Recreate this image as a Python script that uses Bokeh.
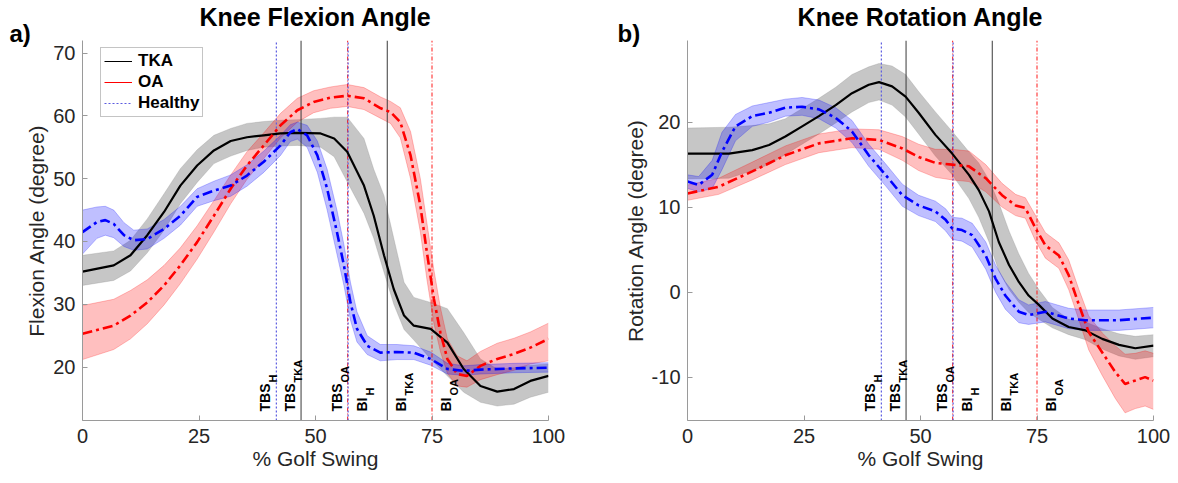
from bokeh.plotting import figure
from bokeh.models import Range1d, FixedTicker, Title, Legend, LegendItem, ColumnDataSource
from bokeh.layouts import row
from bokeh.embed import file_html
from bokeh.resources import INLINE
from bokeh.core.properties import value

# ---------------- data ----------------
X_TICKS = [0, 25, 50, 75, 100]
FLEX_TICKS = [20, 30, 40, 50, 60, 70]
ROT_TICKS = [-10, 0, 10, 20]

event_main = ["TBS", "TBS", "TBS", "BI", "BI", "BI"]
event_sub = ["H", "TKA", "OA", "H", "TKA", "OA"]
event_x = [41.6, 46.9, 56.9, 57.0, 65.4, 75.0]

# Knee flexion angle (panel a)
tka_flex_x = [0, 6.7, 10.3, 13.9, 17.5, 21.0, 24.6, 28.2, 31.8, 35.3, 38.9, 42.5, 46.1, 51.1, 54.0, 56.8,
              60.4, 62.5, 64.7, 66.8, 69.0, 71.1, 74.7, 78.3, 81.8, 85.4, 89.0, 92.6, 96.1, 100]
tka_flex_m = [35.2, 36.2, 37.8, 41.0, 44.7, 48.9, 52.1, 54.5, 56.0, 56.6, 56.9, 57.2, 57.3, 57.2, 56.4, 54.3,
              48.9, 44.1, 37.8, 32.4, 28.2, 26.6, 26.1, 23.9, 19.7, 17.0, 16.1, 16.5, 17.8, 18.6]
tka_flex_lo = [33.0, 33.8, 35.3, 38.2, 41.8, 46.0, 49.4, 52.4, 53.6, 54.5, 55.0, 55.2, 55.3, 55.0, 53.5, 49.5,
               44.5, 40.5, 35.1, 30.0, 26.0, 24.3, 21.3, 18.6, 16.0, 14.4, 13.8, 14.1, 15.2, 16.0]
tka_flex_hi = [37.8, 38.5, 40.2, 43.6, 47.6, 51.6, 54.6, 56.9, 58.0, 58.8, 59.1, 59.3, 59.4, 59.6, 59.8, 59.8,
               56.4, 51.5, 47.3, 40.5, 33.5, 31.1, 30.3, 29.3, 25.5, 21.3, 19.7, 19.9, 20.3, 20.5]

oa_flex_x = [0, 6.7, 10.3, 13.9, 17.5, 21.0, 24.6, 28.2, 31.8, 35.3, 38.9, 42.5, 46.1, 49.6, 53.2, 56.8,
             60.4, 64.0, 66.1, 68.2, 70.4, 72.5, 73.9, 75.4, 76.8, 78.3, 80.4, 82.5, 85.4, 89.0, 92.6, 96.1, 100]
oa_flex_m = [25.3, 26.6, 28.2, 30.3, 33.0, 36.2, 39.9, 44.1, 48.4, 52.1, 55.3, 58.5, 60.9, 62.2, 62.9, 63.2,
             62.8, 61.2, 60.6, 59.0, 53.7, 45.7, 38.3, 30.9, 25.5, 21.3, 18.9, 18.6, 20.2, 21.3, 22.1, 23.1, 24.5]
oa_flex_lo = [21.2, 22.8, 24.5, 26.9, 29.9, 33.3, 37.2, 41.5, 46.0, 49.9, 53.2, 56.5, 59.0, 60.5, 61.2, 61.5,
              61.0, 59.6, 58.8, 56.5, 50.0, 41.5, 34.0, 27.0, 22.5, 19.0, 17.0, 16.8, 18.0, 18.8, 19.5, 20.5, 21.0]
oa_flex_hi = [29.8, 30.8, 32.2, 33.9, 36.2, 39.0, 42.5, 46.5, 50.6, 54.3, 57.3, 60.4, 62.8, 64.0, 64.6, 65.0,
              64.5, 63.0, 62.3, 61.3, 57.5, 50.0, 43.0, 35.5, 29.5, 24.5, 21.8, 21.0, 22.5, 23.8, 24.6, 25.6, 27.0]

h_flex_x = [0, 3.1, 4.9, 6.7, 8.9, 11.0, 13.9, 17.5, 21.0, 24.6, 28.2, 31.8, 35.3, 38.9, 42.5, 44.6, 46.1,
            48.2, 50.4, 52.5, 54.6, 56.1, 57.5, 58.9, 61.1, 63.9, 67.5, 71.1, 74.7, 78.3, 81.8, 85.4, 92.6, 100]
h_flex_m = [41.5, 43.1, 43.4, 42.8, 41.0, 40.2, 40.4, 42.0, 44.1, 47.1, 48.1, 48.9, 50.5, 52.7, 55.3, 57.4, 57.9,
            56.9, 53.7, 48.4, 41.5, 36.2, 30.3, 26.1, 23.4, 22.3, 22.4, 22.3, 21.3, 19.7, 19.4, 19.6, 19.8, 19.9]
h_flex_lo = [38.0, 40.5, 41.0, 40.6, 39.2, 38.6, 38.8, 40.5, 42.6, 45.6, 46.5, 47.2, 48.8, 51.0, 53.7, 55.9, 56.3,
             55.0, 51.0, 45.0, 38.0, 33.0, 27.5, 24.0, 22.0, 21.0, 21.2, 21.2, 20.3, 18.9, 18.7, 18.9, 19.1, 19.2]
h_flex_hi = [45.0, 45.5, 45.6, 45.0, 43.0, 41.8, 42.0, 43.5, 45.6, 48.4, 49.6, 50.6, 52.2, 54.4, 56.9, 58.6, 59.0,
             58.5, 56.0, 51.5, 45.0, 39.5, 33.5, 28.8, 25.0, 23.6, 23.6, 23.4, 22.4, 20.6, 20.2, 20.4, 20.6, 20.7]

# Knee rotation angle (panel b)
tka_rot_x = [0, 8.9, 13.9, 17.5, 21.0, 24.6, 28.2, 31.8, 35.3, 38.9, 41.1, 43.9, 46.8, 49.6, 53.2, 56.8,
             60.4, 62.5, 64.7, 66.8, 69.0, 71.1, 73.2, 75.4, 78.3, 81.8, 85.4, 89.0, 92.6, 96.1, 100]
tka_rot_m = [16.3, 16.3, 16.7, 17.3, 18.3, 19.5, 20.7, 22.0, 23.4, 24.4, 24.7, 24.2, 23.0, 21.1, 18.5, 16.3,
             13.8, 12.0, 9.5, 5.9, 3.2, 1.2, -0.4, -1.5, -3.1, -4.1, -4.5, -5.5, -6.2, -6.6, -6.3]
tka_rot_lo = [13.3, 13.4, 14.3, 15.0, 16.2, 17.4, 18.6, 19.9, 21.2, 22.3, 22.6, 22.0, 20.6, 18.6, 16.0, 13.8,
              11.0, 8.8, 5.9, 2.5, 0.3, -1.2, -2.4, -3.2, -4.2, -5.0, -5.6, -6.7, -7.5, -7.9, -7.6]
tka_rot_hi = [19.3, 19.4, 19.6, 19.8, 20.4, 21.6, 22.8, 24.1, 25.6, 26.5, 26.9, 26.6, 25.6, 23.6, 21.2, 18.9,
              16.5, 15.2, 13.2, 10.5, 7.2, 4.5, 2.2, 0.3, -1.8, -3.2, -3.5, -4.3, -4.9, -5.2, -5.0]

oa_rot_x = [0, 6.7, 13.9, 21.0, 28.2, 35.3, 41.1, 46.1, 49.6, 53.2, 56.8, 60.4, 64.0, 67.5, 70.4, 72.5,
            74.7, 76.8, 79.7, 81.8, 84.0, 86.1, 89.0, 91.8, 93.9, 96.1, 98.2, 100]
oa_rot_m = [11.6, 12.4, 14.2, 16.1, 17.5, 18.1, 17.9, 16.9, 15.9, 15.2, 15.0, 14.8, 13.4, 11.4, 10.2, 9.9,
            7.5, 5.5, 4.3, 2.0, -1.5, -4.7, -7.1, -9.4, -10.8, -10.4, -10.0, -10.4]
oa_rot_lo = [10.8, 11.5, 13.2, 15.0, 16.4, 17.0, 16.8, 15.5, 14.3, 13.5, 13.2, 13.0, 11.8, 10.0, 9.0, 8.7,
             6.0, 4.0, 2.8, 0.3, -3.3, -6.8, -9.8, -12.5, -14.2, -13.7, -13.4, -13.8]
oa_rot_hi = [12.6, 13.4, 15.3, 17.2, 18.6, 19.2, 19.1, 18.3, 17.4, 16.8, 16.8, 16.6, 15.0, 12.8, 11.5, 11.1,
             9.0, 7.0, 5.8, 3.8, 0.3, -2.8, -4.8, -6.3, -7.3, -7.2, -6.9, -7.2]

h_rot_x = [0, 2.4, 5.3, 7.4, 10.3, 13.9, 17.5, 21.0, 24.6, 28.2, 31.8, 35.3, 38.9, 42.5, 46.1, 49.6, 53.2,
           55.4, 56.8, 58.9, 61.1, 64.0, 66.1, 68.2, 71.1, 73.2, 76.8, 81.8, 85.4, 92.6, 100]
h_rot_m = [13.0, 12.6, 13.8, 16.5, 19.5, 20.7, 21.1, 21.7, 21.8, 21.5, 20.5, 18.9, 16.1, 13.8, 11.4, 10.2, 9.5,
           8.5, 7.5, 7.3, 6.7, 4.3, 1.6, -0.4, -2.3, -2.7, -2.3, -3.1, -3.3, -3.3, -3.0]
h_rot_lo = [12.2, 11.8, 12.2, 14.4, 17.8, 19.5, 20.0, 20.7, 20.8, 20.4, 19.3, 17.6, 14.8, 12.5, 10.1, 9.0, 8.3,
            7.2, 6.2, 6.0, 5.3, 2.7, 0.0, -2.0, -3.6, -3.8, -3.5, -4.3, -4.5, -4.5, -4.2]
h_rot_hi = [13.8, 13.6, 15.5, 18.8, 20.9, 21.9, 22.3, 22.7, 22.9, 22.6, 21.7, 20.2, 17.4, 15.1, 12.7, 11.4, 10.7,
            9.8, 8.8, 8.7, 8.1, 5.9, 3.2, 1.2, -0.9, -1.5, -1.1, -1.9, -2.1, -2.1, -1.8]

# ---------------- styling ----------------
FONT = "Liberation Sans"
TXT = "#262626"
AXC = "#9a9a9a"
C_TKA, C_OA, C_H = "#000000", "#ff0000", "#0000ff"
C_EV_H = "#5b5be0"
DASHDOT = "10 4 3 4"


def make_panel(ylim, yticks, ylabel, title, tag, tag_offset, series, border_left, border_right, show_legend):
    p = figure(width=border_left + 466 + border_right, height=40 + 380 + 58,
               frame_width=466, frame_height=380,
               min_border_left=border_left, min_border_right=border_right,
               min_border_top=40, min_border_bottom=58,
               x_range=Range1d(0, 100), y_range=Range1d(*ylim),
               output_backend="svg", toolbar_location=None)
    p.outline_line_color = None
    p.grid.grid_line_color = None
    p.background_fill_color = "white"
    p.border_fill_color = "white"

    # panel tag (closest to frame) and main title (outermost)
    p.add_layout(Title(text=tag, align="left", offset=tag_offset, standoff=-13,
                       text_font=FONT, text_font_size="24px", text_font_style="bold",
                       text_color="#000000"), "above")
    p.title.text = title
    p.title.align = "center"
    p.title.text_font = FONT
    p.title.text_font_size = "25px"
    p.title.text_font_style = "bold"
    p.title.text_color = "#000000"
    p.title.standoff = -12

    for ax, ticks in ((p.xaxis, X_TICKS), (p.yaxis, yticks)):
        ax.ticker = FixedTicker(ticks=ticks)
        ax.major_label_overrides = {t: str(t) for t in ticks}
        ax.axis_line_color = AXC
        ax.major_tick_line_color = AXC
        ax.major_tick_in = 5
        ax.major_tick_out = 0
        ax.minor_tick_line_color = None
        ax.major_label_text_font = FONT
        ax.major_label_text_font_size = "20px"
        ax.major_label_text_color = TXT
        ax.axis_label_text_font = FONT
        ax.axis_label_text_font_size = "21px"
        ax.axis_label_text_font_style = "normal"
        ax.axis_label_text_color = TXT
    p.xaxis.axis_label = "% Golf Swing"
    p.xaxis.major_label_standoff = 8
    p.xaxis.axis_label_standoff = 1
    p.yaxis.axis_label = ylabel
    p.yaxis.major_label_standoff = 7
    p.yaxis.axis_label_standoff = 2

    # bands
    for xs, m, lo, hi, col, alpha in series:
        p.varea(x=xs, y1=lo, y2=hi, fill_color=col, fill_alpha=alpha)
        p.line(xs, lo, line_color=col, line_alpha=0.3, line_width=0.8)
        p.line(xs, hi, line_color=col, line_alpha=0.3, line_width=0.8)

    # event lines
    y0, y1 = ylim
    order = [0, 1, 2, 4, 5, 3]
    for i in order:
        grp = event_sub[i]
        if grp == "TKA":
            kw = dict(line_color="#3a3a3a", line_width=1)
        elif grp == "OA":
            kw = dict(line_color=C_OA, line_width=1, line_dash="4 2 1 2", line_alpha=0.9)
        else:
            kw = dict(line_color=C_EV_H, line_width=1.2, line_dash="2 2")
        p.segment(x0=[event_x[i]], y0=[y0], x1=[event_x[i]], y1=[y1], **kw)

    # mean lines
    styles = [dict(line_color=C_TKA, line_width=2.2),
              dict(line_color=C_OA, line_width=2.6, line_dash=DASHDOT),
              dict(line_color=C_H, line_width=2.6, line_dash=DASHDOT)]
    for (xs, m, lo, hi, col, alpha), st in zip(series, styles):
        p.line(xs, m, **st)

    # event labels (rotated, with subscripts)
    main_off = [-11 if t == "TBS" else 14 for t in event_main]
    sub_off = [-3 if t == "TBS" else 22 for t in event_main]
    sub_yoff = [-38 if t == "TBS" else -25 for t in event_main]
    src = ColumnDataSource(dict(x=event_x, y=[y0] * len(event_x), main=event_main, sub=event_sub,
                                mo=main_off, so=sub_off, syo=sub_yoff))
    p.text(x="x", y="y", text="main", source=src, angle=1.5707963, x_offset="mo", y_offset=-9,
           text_align="left", text_baseline="alphabetic", text_font_size="14px",
           text_font_style="bold", text_color="#000000", text_font=value(FONT))
    p.text(x="x", y="y", text="sub", source=src, angle=1.5707963, x_offset="so", y_offset="syo",
           text_align="left", text_baseline="alphabetic", text_font_size="11px",
           text_font_style="bold", text_color="#000000", text_font=value(FONT))

    if show_legend:
        r1 = p.line([-50, -40], [0, 0], line_color=C_TKA, line_width=1)
        r2 = p.line([-50, -40], [0, 0], line_color=C_OA, line_width=1)
        r3 = p.line([-50, -40], [0, 0], line_color=C_EV_H, line_width=1.2, line_dash="2 2")
        leg = Legend(items=[LegendItem(label="TKA", renderers=[r1]),
                            LegendItem(label="OA", renderers=[r2]),
                            LegendItem(label="Healthy", renderers=[r3])],
                     location=(18, 303), margin=0, padding=3, spacing=1,
                     label_height=20, glyph_height=20, glyph_width=28, label_standoff=6,
                     label_text_font=FONT, label_text_font_size="17px", label_text_font_style="bold",
                     label_text_color="#000000", border_line_color="#8a8a8a", border_line_width=1,
                     background_fill_alpha=1.0)
        p.add_layout(leg, "center")
    return p


flex_series = [
    (tka_flex_x, tka_flex_m, tka_flex_lo, tka_flex_hi, "#808080", 0.45),
    (oa_flex_x, oa_flex_m, oa_flex_lo, oa_flex_hi, "#ff0000", 0.25),
    (h_flex_x, h_flex_m, h_flex_lo, h_flex_hi, "#0000ff", 0.25),
]
rot_series = [
    (tka_rot_x, tka_rot_m, tka_rot_lo, tka_rot_hi, "#808080", 0.45),
    (oa_rot_x, oa_rot_m, oa_rot_lo, oa_rot_hi, "#ff0000", 0.25),
    (h_rot_x, h_rot_m, h_rot_lo, h_rot_hi, "#0000ff", 0.25),
]

p1 = make_panel((11.5, 72.0), FLEX_TICKS, "Flexion Angle (degree)", "Knee Flexion Angle", "a)", -73,
                flex_series, 82, 60, True)
p2 = make_panel((-15.1, 29.6), ROT_TICKS, "Rotation Angle (degree)", "Knee Rotation Angle", "b)", -70,
                rot_series, 79, 17, False)

layout = row(p1, p2)
open("out.html", "w").write(file_html(layout, INLINE))
